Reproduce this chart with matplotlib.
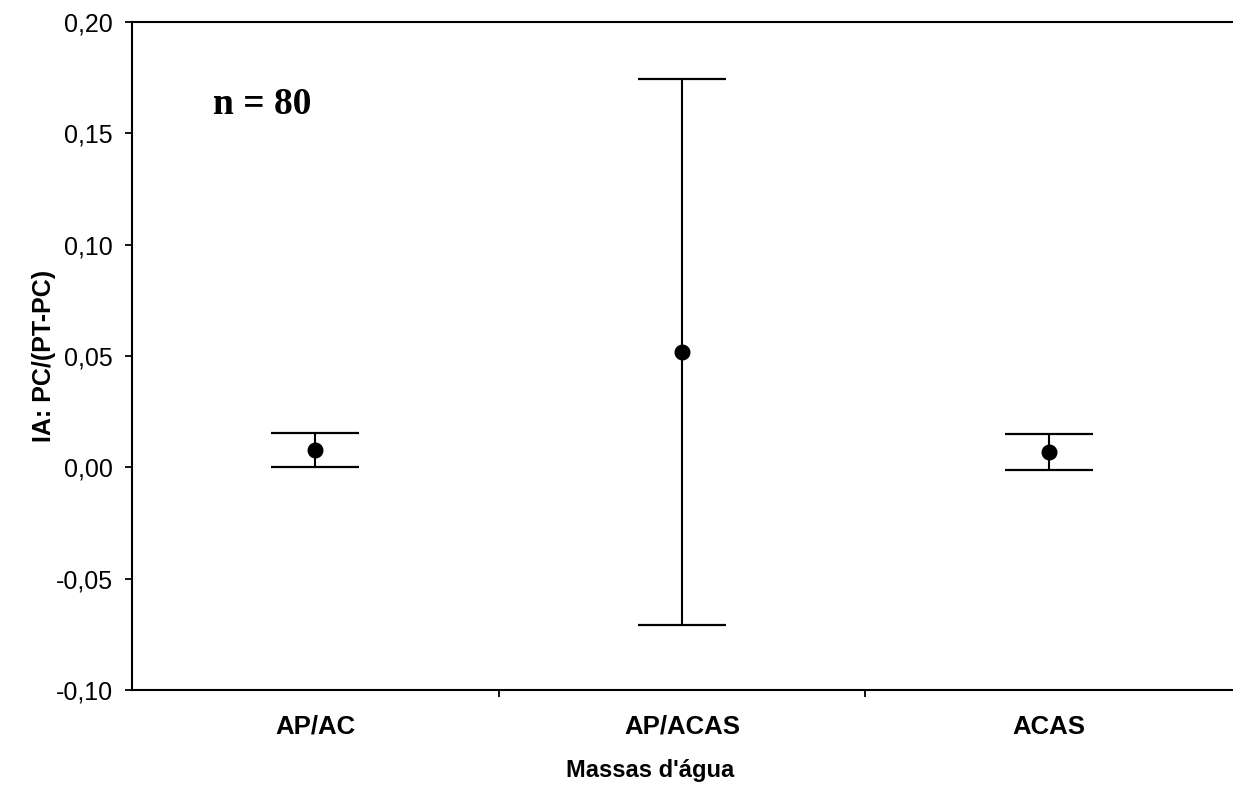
import matplotlib
matplotlib.use('Agg')
import matplotlib.pyplot as plt
from matplotlib.ticker import FuncFormatter, FixedLocator

# Índice IA por massa d'água: média e erro
categorias = ['AP/AC', 'AP/ACAS', 'ACAS']
media = [0.0078, 0.0518, 0.0068]
erro = [0.0078, 0.1225, 0.0080]
yticks = [-0.10, -0.05, 0.00, 0.05, 0.10, 0.15, 0.20]

plt.rcParams['font.family'] = ['Liberation Sans', 'DejaVu Sans']

fig = plt.figure(figsize=(12.33, 7.85), dpi=100)
ax = fig.add_axes([132 / 1233, 1 - 690 / 785, 1100 / 1233, 668 / 785])

xs = [i + 0.5 for i in range(len(categorias))]
ax.errorbar(xs, media, yerr=erro, fmt='o', color='black', ms=10.5,
            elinewidth=1.5, capsize=32, capthick=1.6)

ax.set_xlim(0, 3)
ax.set_ylim(-0.10, 0.20)

# categorias no centro, marcas nas divisões
ax.xaxis.set_major_locator(FixedLocator(xs))
ax.set_xticklabels(categorias, fontsize=18.5, fontweight='bold')
ax.tick_params(axis='x', which='major', length=0, pad=18)
ax.xaxis.set_minor_locator(FixedLocator([1, 2]))
ax.tick_params(axis='x', which='minor', length=5, width=1.3, direction='out')

ax.set_yticks(yticks)
ax.yaxis.set_major_formatter(FuncFormatter(lambda v, p: f'{v:.2f}'.replace('.', ',')))
ax.tick_params(axis='y', length=5, width=1.3, direction='out', labelsize=18, pad=9)

for s in ['left', 'bottom', 'top']:
    ax.spines[s].set_linewidth(1.5)
ax.spines['right'].set_visible(False)

ax.set_xlabel("Massas d'água", fontsize=17, fontweight='bold')
ax.xaxis.set_label_coords(0.471, -0.104)
ax.set_ylabel('IA: PC/(PT-PC)', fontsize=18, fontweight='bold')
ax.yaxis.set_label_coords(-0.069, 0.5)

ax.text(0.22, 0.163, 'n = 80', fontsize=27, fontweight='bold',
        family=['Liberation Serif', 'DejaVu Serif'], va='center', ha='left')

fig.savefig('out.png', dpi=100)
